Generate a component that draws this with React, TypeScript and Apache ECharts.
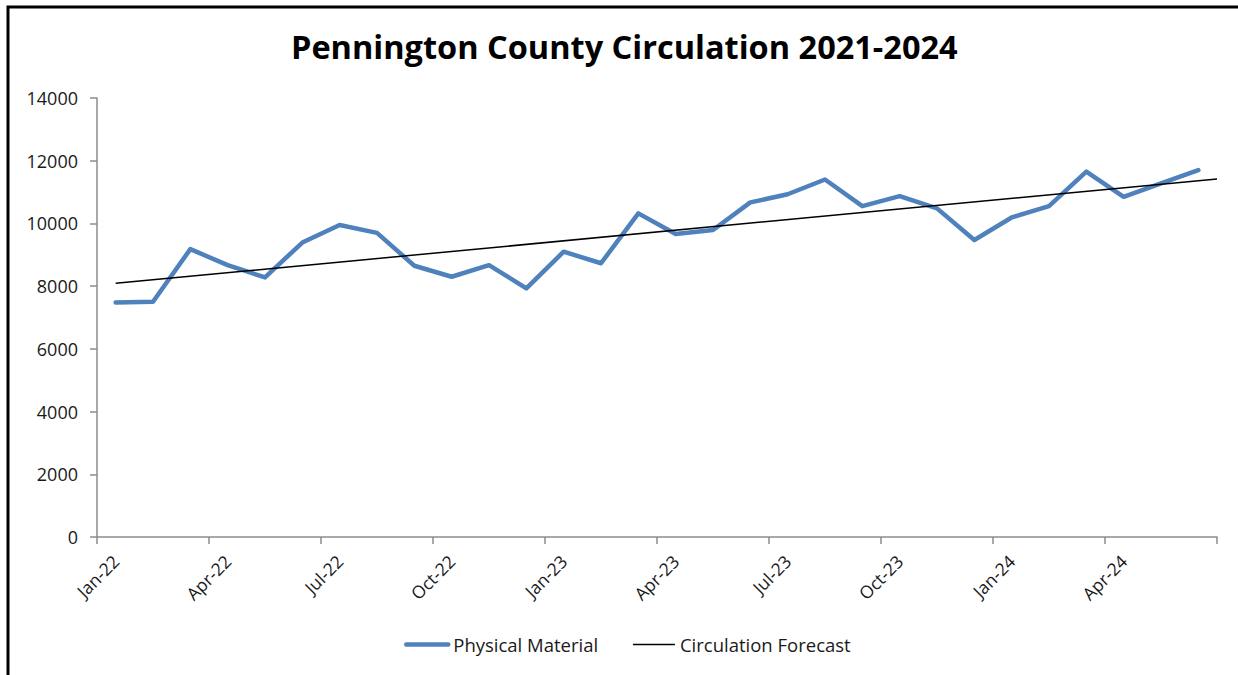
import React, { useEffect, useRef } from "react";
import * as echarts from "echarts";

const months = [
  "Jan-22", "Feb-22", "Mar-22", "Apr-22", "May-22", "Jun-22",
  "Jul-22", "Aug-22", "Sep-22", "Oct-22", "Nov-22", "Dec-22",
  "Jan-23", "Feb-23", "Mar-23", "Apr-23", "May-23", "Jun-23",
  "Jul-23", "Aug-23", "Sep-23", "Oct-23", "Nov-23", "Dec-23",
  "Jan-24", "Feb-24", "Mar-24", "Apr-24", "May-24", "Jun-24",
];

const physicalMaterial = [
  7480, 7500, 9180, 8670, 8280, 9390,
  9950, 9700, 8650, 8300, 8670, 7930,
  9100, 8730, 10320, 9660, 9790, 10670,
  10930, 11400, 10550, 10870, 10480, 9470,
  10190, 10550, 11650, 10850, 11280, 11700,
];

// Trend line endpoints (month position, value)
const forecastX = [0.5, 30];
const forecastY = [8090, 11420];

const FONT = "'Open Sans', 'Noto Sans', sans-serif";

export default function App() {
  const ref = useRef<HTMLDivElement>(null);

  useEffect(() => {
    if (!ref.current) return;
    const chart = echarts.init(ref.current, null, { renderer: "svg" });
    const option = {
      animation: false,
      backgroundColor: "#ffffff",
      title: {
        text: "Pennington County Circulation 2021-2024",
        left: 286,
        top: 25,
        textStyle: {
          fontFamily: FONT,
          fontWeight: "bold",
          fontSize: 32.5,
          color: "#000000",
        },
      },
      graphic: [
        {
          type: "rect",
          shape: { x: 8, y: 7, width: 1400, height: 900 },
          style: { fill: "none", stroke: "#000000", lineWidth: 3 },
          silent: true,
        },
      ],
      legend: {
        left: 399,
        top: 630,
        itemWidth: 42,
        itemHeight: 10,
        itemGap: 34,
        itemStyle: { opacity: 0 },
        textStyle: { fontFamily: FONT, fontSize: 18.5, color: "#1a1a1a" },
        data: [
          { name: "Physical Material", lineStyle: { width: 4.5, color: "#4f81bd" } },
          { name: "Circulation Forecast", lineStyle: { width: 1.5, color: "#000000" } },
        ],
      },
      grid: { left: 97, right: 21, top: 98, bottom: 138 },
      xAxis: [
        {
          type: "value",
          min: 0,
          max: 30,
          interval: 3,
          splitLine: { show: false },
          axisLine: { lineStyle: { color: "#8c8c8c", width: 1.5 } },
          axisTick: { show: true, length: 7, lineStyle: { color: "#8c8c8c", width: 1.5 } },
          axisLabel: { show: false },
        },
        {
          type: "category",
          data: months,
          position: "bottom",
          boundaryGap: true,
          axisLine: { show: false },
          axisTick: { show: false },
          splitLine: { show: false },
          axisLabel: {
            interval: 2,
            rotate: 45,
            margin: 21,
            fontFamily: FONT,
            fontSize: 17.5,
            color: "#1a1a1a",
          },
        },
      ],
      yAxis: {
        type: "value",
        min: 0,
        max: 14000,
        interval: 2000,
        splitLine: { show: false },
        axisLine: { show: true, lineStyle: { color: "#8c8c8c", width: 1.5 } },
        axisTick: { show: true, length: 7, lineStyle: { color: "#8c8c8c", width: 1.5 } },
        axisLabel: {
          margin: 19,
          fontFamily: FONT,
          fontSize: 18,
          color: "#1a1a1a",
          formatter: (v: number) => String(v),
        },
      },
      series: [
        {
          name: "Physical Material",
          type: "line",
          symbol: "none",
          xAxisIndex: 0,
          data: physicalMaterial.map((v, i) => [i + 0.5, v]),
          lineStyle: { color: "#4f81bd", width: 4.5, cap: "round", join: "round" },
          itemStyle: { color: "#4f81bd" },
          z: 2,
        },
        {
          name: "Circulation Forecast",
          type: "line",
          symbol: "none",
          xAxisIndex: 0,
          data: forecastX.map((x, i) => [x, forecastY[i]]),
          lineStyle: { color: "#000000", width: 1.5 },
          itemStyle: { color: "#000000" },
          z: 3,
        },
      ],
    };
    chart.setOption(option);
    return () => chart.dispose();
  }, []);

  return (
    <div
      ref={ref}
      style={{ position: "fixed", left: 0, top: 0, width: 1238, height: 675 }}
    />
  );
}
